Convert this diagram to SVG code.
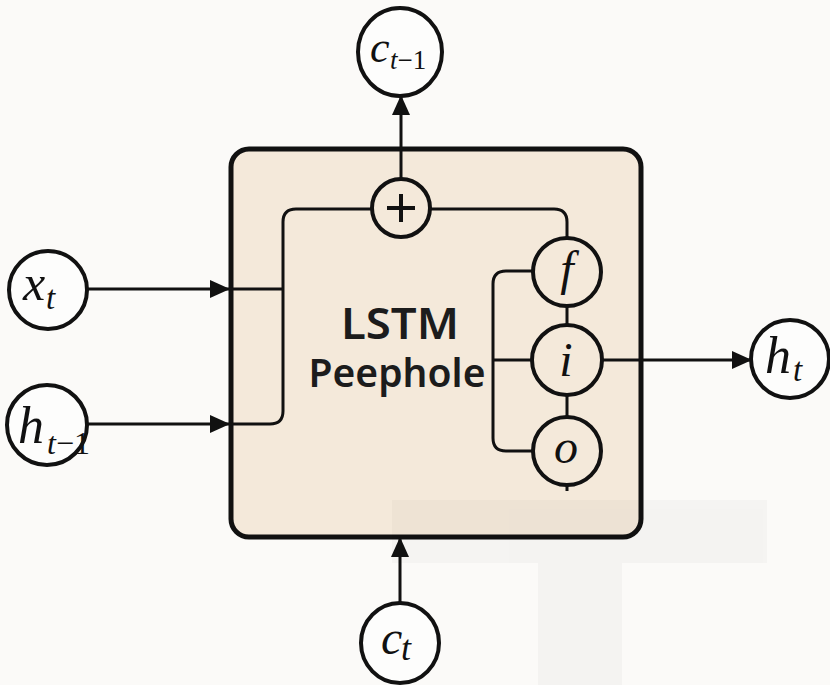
<svg xmlns="http://www.w3.org/2000/svg" width="830" height="685" viewBox="0 0 830 685">
  <style>
    .node { fill: #fdfdfc; stroke: #111; stroke-width: 4; }
    .gate { fill: #f4e9da; stroke: #111; stroke-width: 4; }
    .wire { fill: none; stroke: #111; stroke-width: 3; stroke-linecap: butt; }
    .math { font-family: "Liberation Serif", "DejaVu Serif", serif; font-style: italic; fill: #111; }
    .up { font-style: normal; }
    .title { font-family: "Noto Sans", "Liberation Sans", Arial, sans-serif; font-weight: 600; fill: #1c1c1c; text-anchor: middle; }
  </style>
  <defs>
    <marker id="arrow" viewBox="0 0 20 18" refX="19" refY="9" markerWidth="20" markerHeight="18" markerUnits="userSpaceOnUse" orient="auto">
      <path d="M0,0 L20,9 L0,18 Z" fill="#111"/>
    </marker>
  </defs>

  <rect width="830" height="685" fill="#fbfaf8"/>

  <!-- cell body -->
  <g id="cell">
    <rect x="231" y="149" width="410" height="388" rx="18" ry="18" fill="#f4e9da" stroke="#111" stroke-width="5"/>
    <text class="title" x="400" y="339" font-size="44" textLength="118" lengthAdjust="spacingAndGlyphs">LSTM</text>
    <text class="title" x="397" y="387" font-size="40" textLength="177" lengthAdjust="spacingAndGlyphs">Peephole</text>
  </g>

  <!-- faint backdrop band -->
  <g id="backdrop" fill="#000" opacity="0.025">
    <rect x="392" y="500" width="375" height="63"/>
    <rect x="538" y="563" width="84" height="122"/>
  </g>

  <g id="connectors">
    <!-- inputs into the cell -->
    <line class="wire" x1="88" y1="289" x2="229" y2="289" marker-end="url(#arrow)"/>
    <line class="wire" x1="88" y1="424" x2="229" y2="424" marker-end="url(#arrow)"/>
    <line class="wire" x1="229" y1="289" x2="283" y2="289"/>
    <!-- internal bus from inputs up to the adder -->
    <path class="wire" d="M229,424 H270 Q283,424 283,411 V222 Q283,209 296,209 H372"/>
    <!-- adder to forget gate -->
    <path class="wire" d="M430,209 H554 Q567,209 567,222 V238"/>
    <!-- adder up to previous cell state -->
    <line class="wire" x1="401" y1="179" x2="401" y2="96" marker-end="url(#arrow)"/>
    <!-- gate stack -->
    <line class="wire" x1="567" y1="306" x2="567" y2="325"/>
    <line class="wire" x1="567" y1="395" x2="567" y2="417"/>
    <line class="wire" x1="567" y1="485" x2="567" y2="491"/>
    <path class="wire" d="M533,271 H506 Q493,271 493,284 V438 Q493,451 506,451 H533"/>
    <line class="wire" x1="493" y1="360" x2="532" y2="360"/>
    <!-- output -->
    <line class="wire" x1="602" y1="360" x2="751" y2="360" marker-end="url(#arrow)"/>
    <!-- current cell state into the cell -->
    <line class="wire" x1="400" y1="603" x2="400" y2="538" marker-end="url(#arrow)"/>
  </g>

  <g id="adder">
    <circle class="gate" cx="401" cy="208" r="29"/>
    <path d="M387,208 H415 M401,194 V222" stroke="#111" stroke-width="4" fill="none"/>
  </g>

  <g id="gate-f">
    <circle class="gate" cx="567" cy="272" r="34"/>
    <text class="math" x="567" y="285" font-size="48" text-anchor="middle">f</text>
  </g>
  <g id="gate-i">
    <circle class="gate" cx="567" cy="360" r="35"/>
    <text class="math" x="566" y="376" font-size="48" text-anchor="middle">i</text>
  </g>
  <g id="gate-o">
    <ellipse class="gate" cx="567" cy="451" rx="34" ry="34"/>
    <text class="math" x="566" y="463" font-size="48" text-anchor="middle">o</text>
  </g>

  <g id="node-c-prev">
    <ellipse class="node" cx="400" cy="52" rx="42" ry="44"/>
    <text class="math" x="370" y="62" font-size="44">c</text>
    <text class="math" x="390" y="69" font-size="27">t<tspan class="up">−1</tspan></text>
  </g>

  <g id="node-x">
    <circle class="node" cx="48" cy="290" r="39"/>
    <text class="math" x="23" y="300" font-size="50">x</text>
    <text class="math" x="46" y="309" font-size="33">t</text>
  </g>

  <g id="node-h-prev">
    <circle class="node" cx="47" cy="425" r="40"/>
    <text class="math" x="18" y="443" font-size="52">h</text>
    <text class="math" x="47" y="454" font-size="32">t<tspan class="up">−1</tspan></text>
  </g>

  <g id="node-h">
    <circle class="node" cx="790" cy="359" r="39"/>
    <text class="math" x="765" y="373" font-size="52">h</text>
    <text class="math" x="793" y="381" font-size="33">t</text>
  </g>

  <g id="node-c">
    <ellipse class="node" cx="400" cy="643" rx="39" ry="40"/>
    <text class="math" x="381" y="654" font-size="48">c</text>
    <text class="math" x="401" y="660" font-size="36">t</text>
  </g>
</svg>
